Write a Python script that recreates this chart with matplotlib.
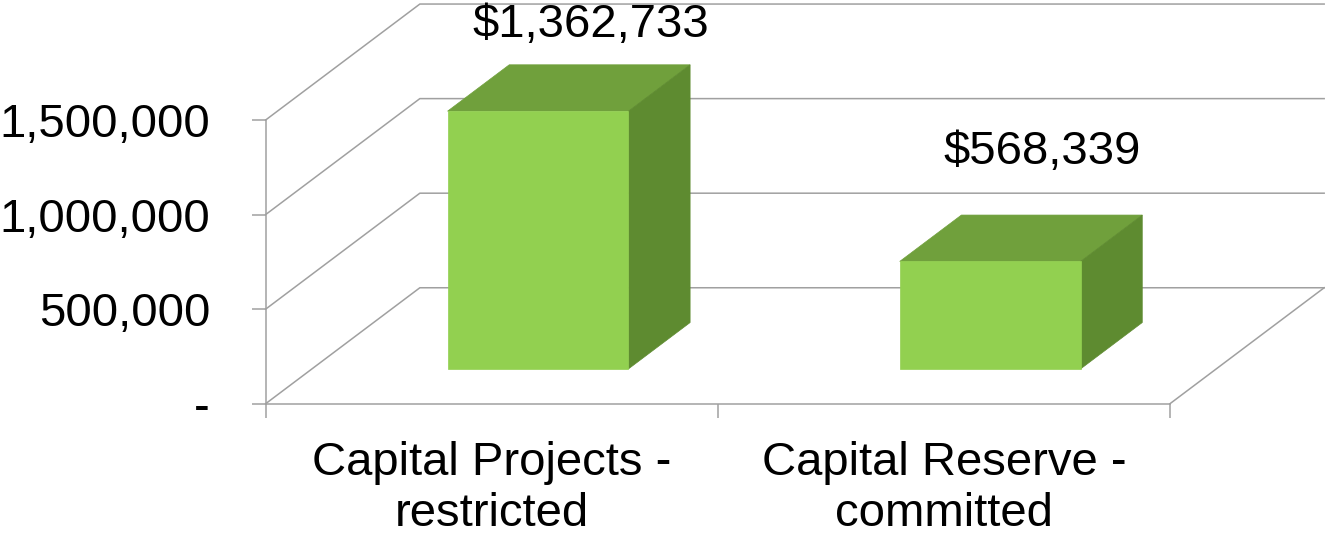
import matplotlib.pyplot as plt
from matplotlib.patches import Polygon
import numpy as np

categories = ['Capital Projects -\nrestricted', 'Capital Reserve -\ncommitted']
values = [1362733, 568339]
value_labels = ['$1,362,733', '$568,339']
yticks = [0, 500000, 1000000, 1500000]
ytick_labels = ['-', '500,000', '1,000,000', '1,500,000']

# fake 3d look: depth goes up and to the right
DX = 0.341        # category units for full depth
DY = 613000       # value units for full depth
BAR_W = 0.4
D0, D1 = 0.3, 0.7  # bar front/back depth
label_lift = [640000, 760000]

FRONT = '#92D050'
TOP = '#70A03C'
SIDE = '#5E8B30'
GRID = '#A0A0A0'
FS = 34

plt.rcParams['font.family'] = ['Liberation Sans', 'DejaVu Sans']

fig = plt.figure(figsize=(13.25, 5.34), dpi=100)
ax = fig.add_axes([0.2005, 0.244, 0.6825, 0.5313])
ax.set_xlim(0, 2)
ax.set_ylim(0, 1500000)


def proj(x, y, d):
    return (x + d * DX, y + d * DY)


# left wall and back wall gridlines
for v in yticks:
    pts = [proj(0, v, 0), proj(0, v, 1), proj(2, v, 1)]
    ax.plot(*zip(*pts), color=GRID, lw=1.1, clip_on=False, zorder=1)
# right edge of floor
pts = [proj(2, 0, 0), proj(2, 0, 1)]
ax.plot(*zip(*pts), color=GRID, lw=1.1, clip_on=False, zorder=1)

xs = np.arange(len(values)) + 0.5
for i, (x, v) in enumerate(zip(xs, values)):
    l, r = x - BAR_W / 2, x + BAR_W / 2
    top = [proj(l, v, D0), proj(r, v, D0), proj(r, v, D1), proj(l, v, D1)]
    side = [proj(r, 0, D0), proj(r, 0, D1), proj(r, v, D1), proj(r, v, D0)]
    front = [proj(l, 0, D0), proj(r, 0, D0), proj(r, v, D0), proj(l, v, D0)]
    for poly, c in [(top, TOP), (side, SIDE), (front, FRONT)]:
        ax.add_patch(Polygon(poly, closed=True, facecolor=c, edgecolor=c,
                             lw=0.5, zorder=3, clip_on=False))
    ax.text(x + 0.64 * DX, v + label_lift[i], value_labels[i],
            ha='center', va='center', fontsize=FS, zorder=4)

for s in ['top', 'right']:
    ax.spines[s].set_visible(False)
for s in ['left', 'bottom']:
    ax.spines[s].set_color(GRID)
    ax.spines[s].set_linewidth(1.1)

ax.set_yticks(yticks)
ax.set_yticklabels(ytick_labels)
ax.tick_params(axis='y', length=10, width=1.1, color=GRID, labelsize=FS, pad=30)

ax.set_xticks(xs)
ax.set_xticklabels(categories, linespacing=1.2)
ax.set_xticks([0, 1, 2], minor=True)
ax.tick_params(axis='x', which='major', length=0, labelsize=FS, pad=27)
ax.tick_params(axis='x', which='minor', length=10, width=1.1, color=GRID)

ax.patch.set_visible(False)
fig.savefig('out.png', dpi=100)
